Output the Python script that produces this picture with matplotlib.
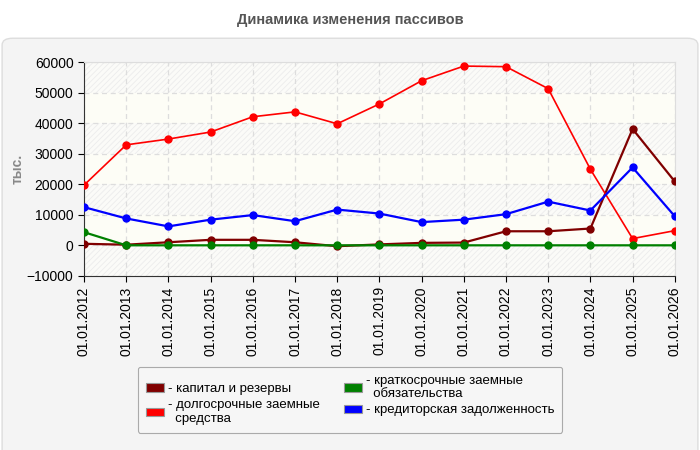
import matplotlib.pyplot as plt
from matplotlib.patches import FancyBboxPatch, Patch

plt.rcParams['font.family'] = ['Liberation Sans', 'DejaVu Sans']
plt.rcParams['hatch.linewidth'] = 0.6

# data (тыс.)
years = ["01.01.2012", "01.01.2013", "01.01.2014", "01.01.2015", "01.01.2016",
         "01.01.2017", "01.01.2018", "01.01.2019", "01.01.2020", "01.01.2021",
         "01.01.2022", "01.01.2023", "01.01.2024", "01.01.2025", "01.01.2026"]
kapital = [500, 200, 1000, 1800, 1800, 1000, -300, 300, 800, 900,
           4600, 4600, 5500, 38100, 20900]
dolgosroch = [19700, 32900, 34800, 37100, 42100, 43700, 39800, 46300, 53900, 58700,
              58500, 51300, 24900, 2200, 4800]
kratkosroch = [4300, 0, 0, 0, 0, 0, 0, 0, 0, 0, 0, 0, 0, 0, 0]
kreditor = [12500, 8800, 6200, 8400, 9900, 7900, 11700, 10400, 7600, 8400,
            10200, 14300, 11400, 25500, 9500]

series = [
    ("капитал и резервы", kapital, "#800000", 1.6),
    ("долгосрочные заемные\nсредства", dolgosroch, "#ff0000", 1.2),
    ("краткосрочные заемные\nобязательства", kratkosroch, "#008000", 1.6),
    ("кредиторская задолженность", kreditor, "#0000ff", 1.6),
]

fig = plt.figure(figsize=(7, 4.5), dpi=100)
fig.patch.set_facecolor("white")

# light panel behind the chart
panel = FancyBboxPatch((0.003, -0.05), 0.994, 0.965, boxstyle="round,pad=0,rounding_size=0.015",
                       transform=fig.transFigure, facecolor="#f4f4f4", edgecolor="#dddddd",
                       lw=1, zorder=-10)
fig.patches.append(panel)

fig.text(0.5, 0.955, "Динамика изменения пассивов", ha="center", va="center",
         fontsize=10.5, fontweight="bold", color="#555555")

ax = fig.add_axes([0.12, 0.387, 0.844, 0.475])
ax.set_zorder(1)
ax.set_facecolor("#fdfdf6")

# striped background bands
for i, lo in enumerate(range(-10000, 60000, 10000)):
    if i % 2 == 0:
        ax.axhspan(lo, lo + 10000, facecolor="#fbfbf8", edgecolor="#ececec",
                   hatch="//////", lw=0, zorder=0)

x = list(range(len(years)))
for label, vals, col, lw in series:
    ax.plot(x, vals, color=col, lw=lw, marker="o", ms=5, zorder=3)

ax.set_xlim(0, len(years) - 1)
ax.set_ylim(-10000, 60000)
ax.set_yticks(range(-10000, 60001, 10000))
ax.set_xticks(x)
ax.set_xticklabels(years, rotation=90, fontsize=10)
ax.tick_params(axis="y", labelsize=10, length=4)
ax.tick_params(axis="x", length=4)
ax.grid(True, ls=(0, (4, 3)), color="#dddddd", lw=0.9)
ax.set_axisbelow(True)
for s in ["top", "right"]:
    ax.spines[s].set_color("#dddddd")
for s in ["left", "bottom"]:
    ax.spines[s].set_color("#333333")

ax.set_ylabel("тыс.", fontsize=10, fontweight="bold", color="#888888")
ax.yaxis.set_label_coords(-0.1, 0.5)

handles = [Patch(facecolor=c, edgecolor="#999999", lw=0.8) for _, _, c, _ in series]
labels = ["- " + l.replace("\n", "\n  ") for l, _, _, _ in series]
leg = fig.legend(handles, labels, ncol=2, loc="upper center", bbox_to_anchor=(0.5, 0.185),
                 fontsize=9.5, frameon=True, fancybox=True, handlelength=1.4, handleheight=0.6,
                 handletextpad=0.3, columnspacing=1.8, borderpad=0.6, labelspacing=0.3,
                 borderaxespad=0, facecolor="#f6f6f6", edgecolor="#aaaaaa", framealpha=1)
leg.get_frame().set_linewidth(0.8)

fig.savefig("out.png", dpi=100)
